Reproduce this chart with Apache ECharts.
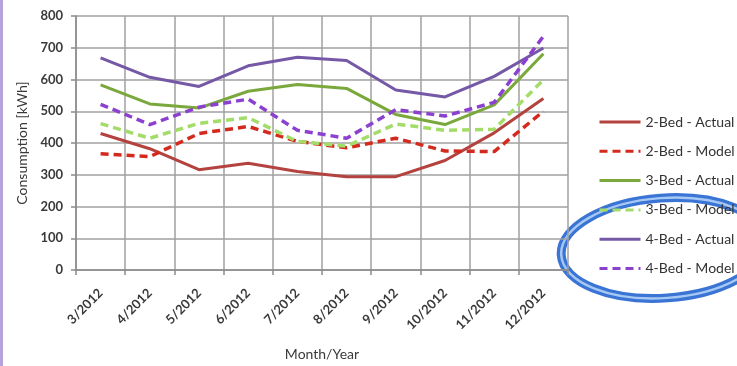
<!DOCTYPE html>
<html>
<head>
<meta charset="utf-8">
<script src="https://cdn.jsdelivr.net/npm/echarts@6/dist/echarts.min.js"></script>
<style>
  html, body { margin: 0; padding: 0; background: #ffffff; }
  #chart { width: 737px; height: 366px; }
  #edge { position: absolute; left: 0; top: 0; width: 3px; height: 366px; background: #b7a3dc; z-index: 2; }
</style>
</head>
<body>
<div id="edge"></div>
<div id="chart"></div>
<script>
// Monthly household electricity consumption, actual vs. model (kWh)
const months = ['3/2012', '4/2012', '5/2012', '6/2012', '7/2012', '8/2012', '9/2012', '10/2012', '11/2012', '12/2012'];

const bed2Actual = [430, 382, 316, 336, 310, 294, 294, 345, 432, 540];
const bed2Model  = [366, 357, 430, 452, 405, 385, 415, 375, 373, 500];
const bed3Actual = [583, 523, 510, 563, 584, 572, 490, 458, 520, 681];
const bed3Model  = [461, 415, 462, 480, 405, 390, 460, 440, 443, 599];
const bed4Actual = [668, 607, 578, 643, 670, 660, 567, 545, 610, 699];
const bed4Model  = [522, 458, 513, 538, 440, 415, 505, 485, 528, 736];

const yTicks = { min: 0, max: 800, interval: 100 };

const font = 'Lato, "Open Sans", "Liberation Sans", sans-serif';

function lineSeries(name, data, color, dashed) {
  return {
    name: name,
    type: 'line',
    data: data,
    symbol: 'none',
    showSymbol: false,
    smooth: false,
    lineStyle: {
      color: color,
      width: dashed ? 3.5 : 3,
      type: dashed ? [8, 5] : 'solid'
    },
    itemStyle: { color: color }
  };
}

const chart = echarts.init(document.getElementById('chart'), null, { renderer: 'canvas' });

chart.setOption({
  animation: false,
  backgroundColor: '#ffffff',
  textStyle: { fontFamily: font },
  grid: { left: 76, right: 169, top: 16, bottom: 88 },
  xAxis: {
    type: 'category',
    data: months,
    boundaryGap: true,
    name: 'Month/Year',
    nameLocation: 'middle',
    nameGap: 77,
    nameTextStyle: { fontFamily: font, fontSize: 14, color: '#3a3a3a' },
    axisLine: { lineStyle: { color: '#8a8a8a', width: 1.5 } },
    axisTick: { show: true, length: 5, lineStyle: { color: '#8a8a8a', width: 1.5 } },
    splitLine: { show: true, lineStyle: { color: '#a0a0a0', width: 1.5 } },
    axisLabel: {
      rotate: 45,
      fontFamily: font,
      fontSize: 13,
      fontWeight: 'bold',
      color: '#3a3a3a',
      margin: 21
    }
  },
  yAxis: {
    type: 'value',
    min: yTicks.min,
    max: yTicks.max,
    interval: yTicks.interval,
    name: 'Consumption [kWh]',
    nameLocation: 'middle',
    nameGap: 45,
    nameRotate: 90,
    nameTextStyle: { fontFamily: font, fontSize: 14, color: '#3a3a3a' },
    axisLine: { show: true, lineStyle: { color: '#8a8a8a', width: 1.5 } },
    axisTick: { show: true, length: 5, lineStyle: { color: '#8a8a8a', width: 1.5 } },
    splitLine: { show: true, lineStyle: { color: '#a0a0a0', width: 1.5 } },
    axisLabel: {
      fontFamily: font,
      fontSize: 13,
      fontWeight: 'bold',
      color: '#3a3a3a',
      margin: 13
    }
  },
  legend: {
    orient: 'vertical',
    left: 593,
    top: 110,
    itemWidth: 41,
    itemHeight: 14,
    itemGap: 15.3,
    itemStyle: { opacity: 0 },
    lineStyle: { width: 3 },
    textStyle: { fontFamily: font, fontSize: 14, color: '#333333' },
    data: ['2-Bed - Actual', '2-Bed - Model', '3-Bed - Actual', '3-Bed - Model', '4-Bed - Actual', '4-Bed - Model']
  },
  series: [
    lineSeries('2-Bed - Actual', bed2Actual, '#b4423f', false),
    lineSeries('2-Bed - Model', bed2Model, '#d42a1e', true),
    lineSeries('3-Bed - Actual', bed3Actual, '#7aa83c', false),
    lineSeries('3-Bed - Model', bed3Model, '#a3dc68', true),
    lineSeries('4-Bed - Actual', bed4Actual, '#7558a6', false),
    lineSeries('4-Bed - Model', bed4Model, '#8b40d0', true)
  ],
  graphic: [
    {
      // hand-drawn highlight ring around the 4-bed legend entries
      type: 'group',
      z: 100,
      x: 664,
      y: 248,
      rotation: 0.07,
      children: [
        {
          type: 'ellipse',
          shape: { cx: 0, cy: 0, rx: 103, ry: 50 },
          style: { fill: null, stroke: '#3a74d4', lineWidth: 9 }
        },
        {
          type: 'ellipse',
          shape: { cx: 0, cy: 0, rx: 103, ry: 50 },
          style: { fill: null, stroke: '#a6c8f4', lineWidth: 2.5 }
        }
      ]
    }
  ]
});
</script>
</body>
</html>
